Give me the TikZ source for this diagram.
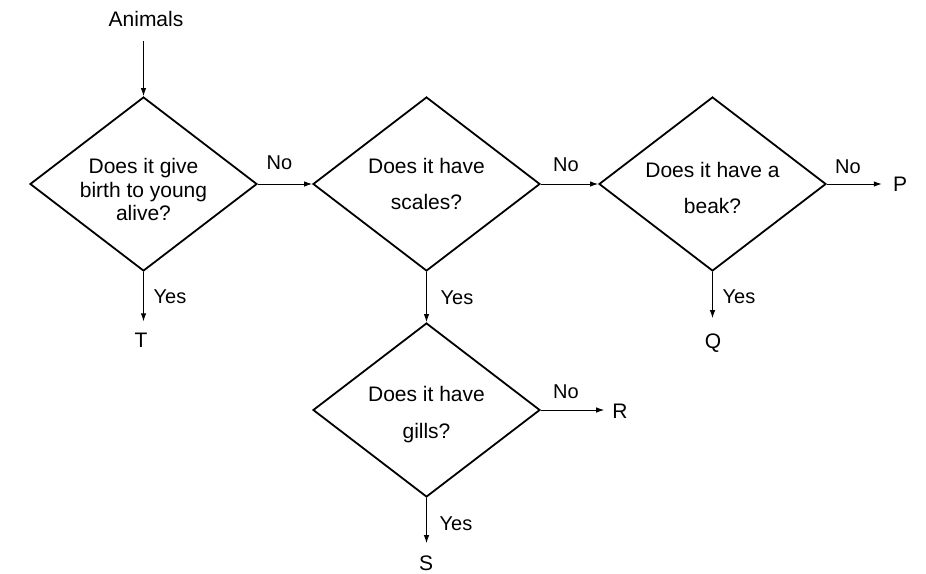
\documentclass[tikz,border=0pt]{standalone}
\usepackage{fontspec}
\setmainfont{Liberation Sans}
\usetikzlibrary{shapes.geometric,arrows.meta}
\begin{document}
\begin{tikzpicture}[x=1pt,y=-1pt,
  decision/.style={shape=diamond,draw,line width=1.8pt,minimum width=227pt,minimum height=174pt,inner sep=0pt},
  qtext/.style={anchor=base,inner sep=0pt,font=\fontsize{21}{25}\selectfont},
  lbl/.style={anchor=base,inner sep=0pt,font=\fontsize{20}{24}\selectfont},
  outc/.style={anchor=base,inner sep=0pt,font=\fontsize{21}{25}\selectfont},
  conn/.style={line width=1pt,-{Latex[length=8pt,width=5.5pt]}}]
\useasboundingbox (0,0) rectangle (926,573);
% diamonds
\node[decision] (d1) at (143.5,184) {};
\node[decision] (d2) at (426.5,184) {};
\node[decision] (d3) at (712.5,184) {};
\node[decision] (d4) at (426.5,410) {};
% question texts
\node[qtext] (d1a) at (143.5,173) {Does it give};
\node[qtext] (d1b) at (143.5,197) {birth to young};
\node[qtext] (d1c) at (143.5,220.5) {alive?};
\node[qtext] (d2a) at (426.5,173) {Does it have};
\node[qtext] (d2b) at (426.5,209) {scales?};
\node[qtext] (d3a) at (712.5,177) {Does it have a};
\node[qtext] (d3b) at (712.5,213) {beak?};
\node[qtext] (d4a) at (426.5,401) {Does it have};
\node[qtext] (d4b) at (426.5,438) {gills?};
% start and outcomes
\node[outc] (animals) at (146,26) {Animals};
\node[outc] (T) at (141,347) {T};
\node[outc] (Q) at (713,348) {Q};
\node[outc] (P) at (900,191) {P};
\node[outc] (R) at (620,418) {R};
\node[outc] (S) at (426,570) {S};
% connectors
\draw[conn,shorten <=15pt] (animals.south -| d1.north) -- (d1.north);
\draw[conn,shorten >=11pt] (d1.south) -- (d1.south |- T.north);
\draw[conn] (d1.east) -- (d2.west);
\draw[conn] (d2.east) -- (d3.west);
\draw[conn,shorten >=11pt] (d3.east) -- (d3.east -| P.west);
\draw[conn] (d2.south) -- (d4.north);
\draw[conn,shorten >=15pt] (d3.south) -- (d3.south |- Q.north);
\draw[conn,shorten >=8pt] (d4.east) -- (d4.east -| R.west);
\draw[conn,shorten >=12pt] (d4.south) -- (d4.south |- S.north);
% branch labels
\node[lbl] (n1) at (279.5,169) {No};
\node[lbl] (n2) at (566,171) {No};
\node[lbl] (n3) at (848,173) {No};
\node[lbl] (n4) at (566,398) {No};
\node[lbl] (y1) at (170,303) {Yes};
\node[lbl] (y2) at (457,304) {Yes};
\node[lbl] (y3) at (739,303) {Yes};
\node[lbl] (y4) at (456,530) {Yes};
\end{tikzpicture}
\end{document}
